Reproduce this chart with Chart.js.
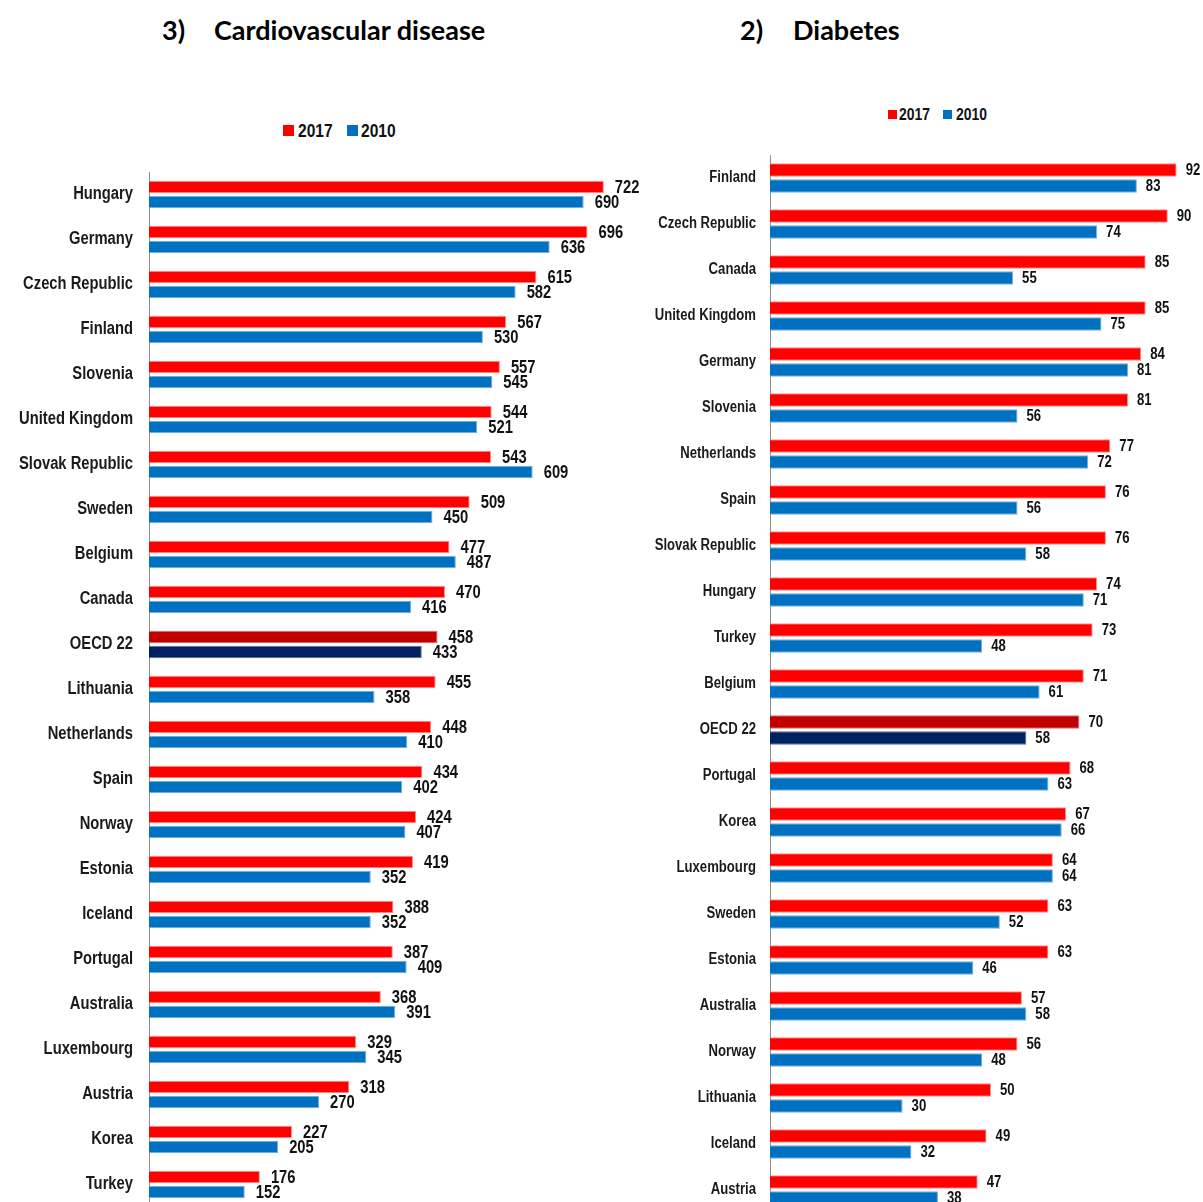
<!DOCTYPE html>
<html>
<head>
<meta charset="utf-8">
<script src="https://cdn.jsdelivr.net/npm/chart.js@4/dist/chart.umd.min.js"></script>
<style>
  html, body { margin: 0; padding: 0; background: #fff; overflow: hidden; }
  #stage { position: relative; width: 1203px; height: 1202px; overflow: hidden; }
  .title { position: absolute; font-family: Lato, "Open Sans", sans-serif; font-weight: 700; font-size: 27px; color: #000; line-height: 1; white-space: nowrap; }
  .lg-sw { position: absolute; }
  .lg-tx { position: absolute; font-family: "Liberation Sans", Arial, sans-serif; font-weight: 700; color: #111; white-space: nowrap; line-height: 1; transform: scaleX(0.82); transform-origin: 0 50%; }
  .box { position: absolute; }
</style>
</head>
<body>
<div id="stage">
  <div class="title" style="left:162px; top:16px;">3)</div>
  <div class="title" style="left:214px; top:16px;">Cardiovascular disease</div>
  <div class="title" style="left:740px; top:16px;">2)</div>
  <div class="title" style="left:793px; top:16px;">Diabetes</div>

  <div class="box" style="left:0px; top:172px; width:653px; height:1035px;"><canvas id="cvd" width="653" height="1035"></canvas></div>
  <div class="box" style="left:653px; top:155px; width:559px; height:1058px;"><canvas id="diab" width="559" height="1058"></canvas></div>
</div>
<script>
// Cardiovascular disease
const cvdCountries = ['Hungary','Germany','Czech Republic','Finland','Slovenia','United Kingdom','Slovak Republic','Sweden','Belgium','Canada','OECD 22','Lithuania','Netherlands','Spain','Norway','Estonia','Iceland','Portugal','Australia','Luxembourg','Austria','Korea','Turkey'];
const cvd2017 = [722,696,615,567,557,544,543,509,477,470,458,455,448,434,424,419,388,387,368,329,318,227,176];
const cvd2010 = [690,636,582,530,545,521,609,450,487,416,433,358,410,402,407,352,352,409,391,345,270,205,152];

// Diabetes
const diabCountries = ['Finland','Czech Republic','Canada','United Kingdom','Germany','Slovenia','Netherlands','Spain','Slovak Republic','Hungary','Turkey','Belgium','OECD 22','Portugal','Korea','Luxembourg','Sweden','Estonia','Australia','Norway','Lithuania','Iceland','Austria'];
const diab2017 = [92,90,85,85,84,81,77,76,76,74,73,71,70,68,67,64,63,63,57,56,50,49,47];
const diab2010 = [83,74,55,75,81,56,72,56,58,71,48,61,58,63,66,64,52,46,58,48,30,32,38];

const seriesYears = ['2017', '2010'];
const aggregateLabel = 'OECD 22';

const FONT = '"Liberation Sans", Arial, sans-serif';
const NARROW_X = 0.82;          // horizontal squeeze giving a narrow face
const RED = '#FF0000', RED_DARK = '#C00000', RED_EDGE = '#FF8F8F', RED_DARK_EDGE = '#D86A6A';
const BLUE = '#0070C0', BLUE_DARK = '#002060', BLUE_EDGE = '#74AEDD', BLUE_DARK_EDGE = '#5A6E96';

function colorsFor(categories, normal, dark) {
  return categories.map(c => c === aggregateLabel ? dark : normal);
}

function narrowText(ctx, text, x, y) {
  ctx.save();
  ctx.translate(x, y);
  ctx.scale(NARROW_X, 1);
  ctx.fillText(text, 0, 0);
  ctx.restore();
}

// Category names beside the y axis, in a narrow face
const narrowCategoryLabels = {
  id: 'narrowCategoryLabels',
  afterDraw(chart, args, opts) {
    const ctx = chart.ctx;
    const yScale = chart.scales.y;
    ctx.save();
    ctx.font = `bold ${opts.size}px ${FONT}`;
    ctx.fillStyle = '#1a1a1a';
    ctx.textAlign = 'right';
    ctx.textBaseline = 'middle';
    chart.data.labels.forEach((lab, i) => {
      narrowText(ctx, lab, yScale.right - opts.padding, yScale.getPixelForTick(i));
    });
    ctx.restore();
  }
};

// Each bar's value just past the end of the bar
const valueLabels = {
  id: 'valueLabels',
  afterDatasetsDraw(chart, args, opts) {
    const ctx = chart.ctx;
    ctx.save();
    ctx.font = `bold ${opts.size}px ${FONT}`;
    ctx.fillStyle = '#111';
    ctx.textAlign = 'left';
    ctx.textBaseline = 'middle';
    chart.data.datasets.forEach((ds, di) => {
      const meta = chart.getDatasetMeta(di);
      meta.data.forEach((bar, i) => {
        narrowText(ctx, String(ds.data[i]), bar.x + opts.offset, bar.y + 1);
      });
    });
    ctx.restore();
  }
};

// HTML legend built from the chart's datasets
function buildLegend(chart, items) {
  const stage = document.getElementById('stage');
  chart.data.datasets.forEach((ds, i) => {
    const it = items[i];
    const sw = document.createElement('div');
    sw.className = 'lg-sw';
    Object.assign(sw.style, { left: it.sx + 'px', top: (it.cy - it.box / 2) + 'px', width: it.box + 'px', height: it.box + 'px', background: ds.legendColor });
    const tx = document.createElement('div');
    tx.className = 'lg-tx';
    tx.textContent = ds.label;
    Object.assign(tx.style, { left: it.tx + 'px', top: (it.cy - it.size / 2) + 'px', fontSize: it.size + 'px', height: it.size + 'px' });
    stage.appendChild(sw);
    stage.appendChild(tx);
  });
}

function makeChart(id, categories, a, b, cfg) {
  return new Chart(document.getElementById(id), {
    type: 'bar',
    data: {
      labels: categories,
      datasets: [
        { label: seriesYears[0], data: a, legendColor: RED,
          backgroundColor: colorsFor(categories, RED, RED_DARK),
          borderColor: colorsFor(categories, RED_EDGE, RED_DARK_EDGE), borderWidth: 1,
          categoryPercentage: cfg.cat, barPercentage: cfg.bar },
        { label: seriesYears[1], data: b, legendColor: BLUE,
          backgroundColor: colorsFor(categories, BLUE, BLUE_DARK),
          borderColor: colorsFor(categories, BLUE_EDGE, BLUE_DARK_EDGE), borderWidth: 1,
          categoryPercentage: cfg.cat, barPercentage: cfg.bar }
      ]
    },
    options: {
      indexAxis: 'y',
      responsive: false,
      animation: false,
      layout: { padding: 0 },
      plugins: {
        legend: { display: false },
        tooltip: { enabled: false },
        valueLabels: { size: cfg.valueSize, offset: cfg.valueOffset },
        narrowCategoryLabels: { size: cfg.tickSize, padding: cfg.tickPad }
      },
      scales: {
        x: { display: false, min: 0, max: cfg.max },
        y: {
          grid: { display: false },
          border: { display: true, color: '#8c8c8c', width: 1 },
          ticks: { display: false },
          afterFit(scale) { scale.width = cfg.axisWidth; scale.paddingTop = 0; scale.paddingBottom = 0; }
        }
      }
    },
    plugins: [valueLabels, narrowCategoryLabels]
  });
}

const cvdChart = makeChart('cvd', cvdCountries, cvd2017, cvd2010, {
  max: 800, cat: 0.667, bar: 0.84, axisWidth: 149, tickPad: 16, tickSize: 18, valueSize: 18, valueOffset: 11
});
const diabChart = makeChart('diab', diabCountries, diab2017, diab2010, {
  max: 100, cat: 0.696, bar: 0.84, axisWidth: 117, tickPad: 14, tickSize: 16, valueSize: 16, valueOffset: 9
});

buildLegend(cvdChart, [
  { sx: 283, tx: 298, cy: 130, box: 11, size: 19 },
  { sx: 347, tx: 361, cy: 130, box: 11, size: 19 }
]);
buildLegend(diabChart, [
  { sx: 888, tx: 899, cy: 114, box: 9, size: 17 },
  { sx: 943, tx: 956, cy: 114, box: 9, size: 17 }
]);
</script>
</body>
</html>
